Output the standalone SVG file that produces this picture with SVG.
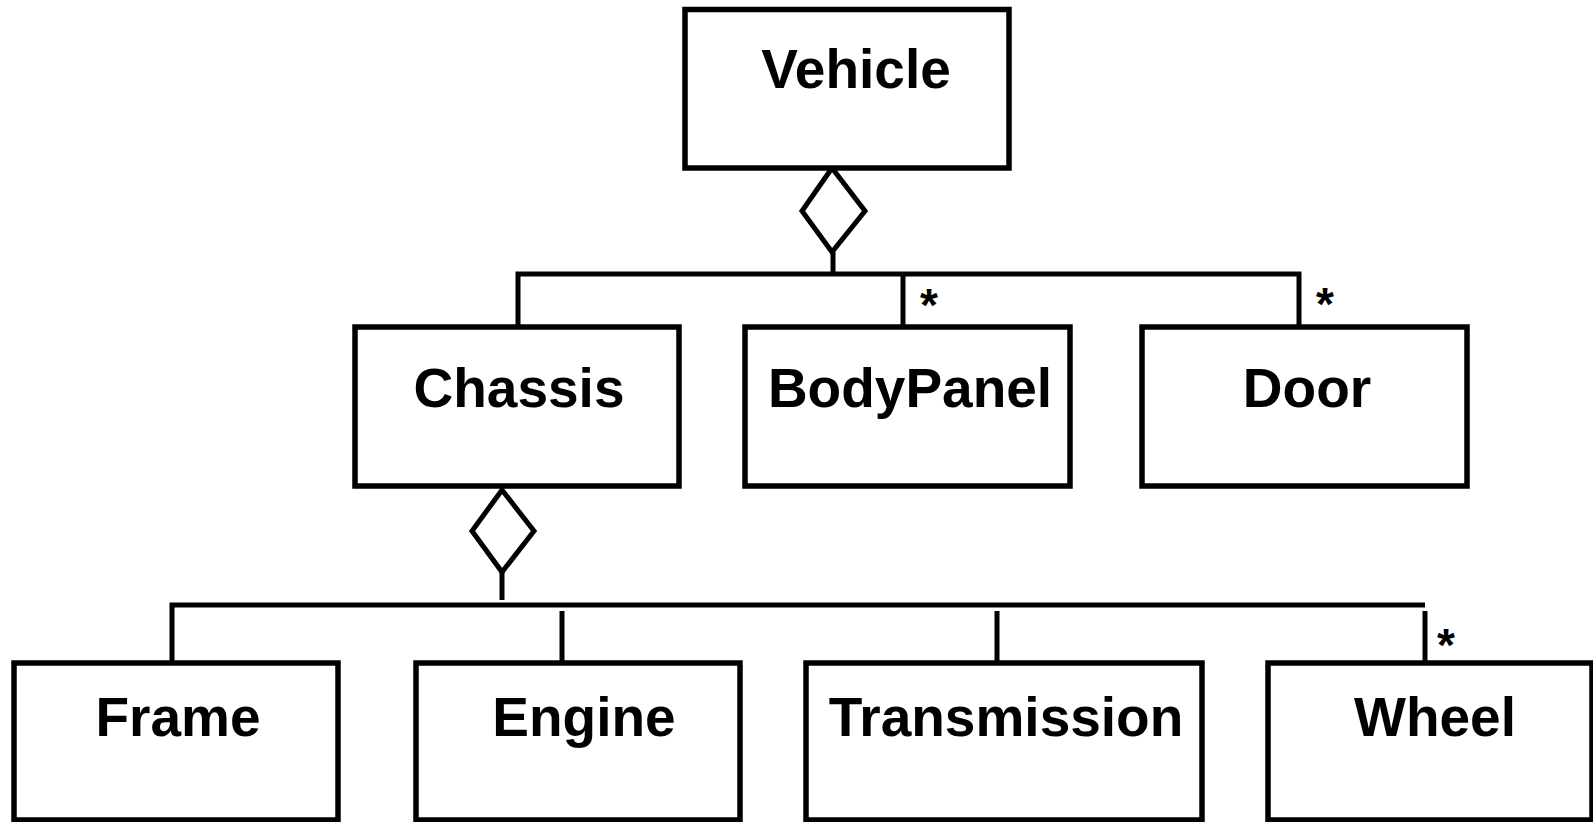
<svg xmlns="http://www.w3.org/2000/svg" width="1593" height="822" viewBox="0 0 1593 822">
  <style>
    .box { fill: #ffffff; stroke: #000000; stroke-width: 5.5; }
    .label { font-family: "Liberation Sans", Arial, sans-serif; font-weight: bold; font-size: 55px; fill: #000000; text-anchor: middle; }
    .mult { font-family: "Liberation Sans", Arial, sans-serif; font-weight: bold; font-size: 46px; fill: #000000; text-anchor: middle; }
    .line { fill: none; stroke: #000000; stroke-width: 5; }
    .agg { fill: #ffffff; stroke: #000000; stroke-width: 5; stroke-linejoin: miter; }
  </style>
  <rect width="1593" height="822" fill="#ffffff"/>

  <!-- aggregation connectors -->
  <g id="connectors">
    <!-- Vehicle aggregates Chassis, BodyPanel, Door -->
    <polygon class="agg" points="832,168 802,211 832,252 865,211"/>
    <line class="line" x1="833" y1="252" x2="833" y2="274"/>
    <polyline class="line" points="518,327 518,274 1299,274 1299,327"/>
    <line class="line" x1="903" y1="274" x2="903" y2="327"/>
    <text class="mult" x="929" y="321">*</text>
    <text class="mult" x="1325" y="320">*</text>

    <!-- Chassis aggregates Frame, Engine, Transmission, Wheel -->
    <polygon class="agg" points="502,490 472,531 502,572 534,531"/>
    <line class="line" x1="502" y1="572" x2="502" y2="600"/>
    <polyline class="line" points="172,663 172,605 1425,605"/>
    <line class="line" x1="562" y1="611" x2="562" y2="663"/>
    <line class="line" x1="997" y1="611" x2="997" y2="663"/>
    <line class="line" x1="1425" y1="611" x2="1425" y2="663"/>
    <text class="mult" x="1446" y="661">*</text>
  </g>

  <g id="vehicle">
    <rect class="box" x="685" y="9.5" width="324" height="158.5"/>
    <text class="label" x="856" y="88">Vehicle</text>
  </g>

  <g id="chassis">
    <rect class="box" x="355" y="327" width="324" height="159"/>
    <text class="label" x="519" y="407">Chassis</text>
  </g>

  <g id="bodypanel">
    <rect class="box" x="745" y="327" width="325" height="159"/>
    <text class="label" x="910" y="407">BodyPanel</text>
  </g>

  <g id="door">
    <rect class="box" x="1142" y="327" width="325" height="159"/>
    <text class="label" x="1307" y="407">Door</text>
  </g>

  <g id="frame">
    <rect class="box" x="14" y="663" width="324" height="157"/>
    <text class="label" x="178" y="736">Frame</text>
  </g>

  <g id="engine">
    <rect class="box" x="416" y="663" width="324" height="157"/>
    <text class="label" x="584" y="736">Engine</text>
  </g>

  <g id="transmission">
    <rect class="box" x="806" y="663" width="396" height="157"/>
    <text class="label" x="1006" y="736">Transmission</text>
  </g>

  <g id="wheel">
    <rect class="box" x="1268" y="663" width="324" height="157"/>
    <text class="label" x="1435" y="736">Wheel</text>
  </g>
</svg>
